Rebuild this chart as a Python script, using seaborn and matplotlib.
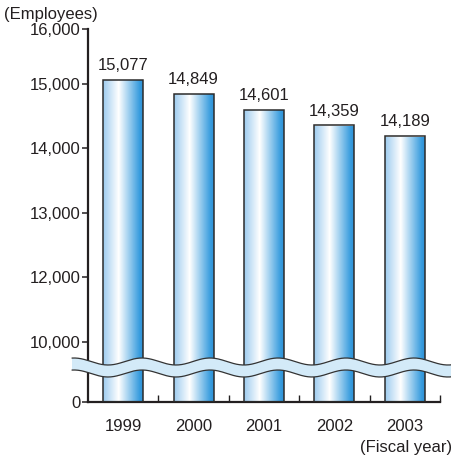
import numpy as np
import pandas as pd
import matplotlib
matplotlib.use("Agg")
import matplotlib.pyplot as plt
from matplotlib.colors import LinearSegmentedColormap
from matplotlib.patches import Polygon
from matplotlib.lines import Line2D
from matplotlib.ticker import FixedLocator, FuncFormatter
import seaborn as sns

# Data
years = ["1999", "2000", "2001", "2002", "2003"]
employees = [15077, 14849, 14601, 14359, 14189]
y_ticks = [0, 10000, 12000, 13000, 14000, 15000, 16000]

sns.set_style("ticks")
plt.rcParams["font.family"] = ["Liberation Sans", "DejaVu Sans"]
INK = "#231f20"
FS = 12

W, H = 452, 457
fig = plt.figure(figsize=(W / 100, H / 100), dpi=100)
ax = fig.add_axes([88 / W, 55 / H, 352 / W, 373 / H])

# Broken value axis: compressed below 10,000, wider spacing above
brk_vals = np.array([0, 10000, 12000, 15000, 16000], dtype=float)
brk_pos = np.array([0, 60, 125, 318, 373], dtype=float)


def fwd(v):
    return np.interp(v, brk_vals, brk_pos)


def inv(p):
    return np.interp(p, brk_pos, brk_vals)


ax.set_yscale("function", functions=(fwd, inv))

df = pd.DataFrame({"year": years, "employees": employees})
sns.barplot(data=df, x="year", y="employees", ax=ax, width=0.57,
            color="#5aaee5", saturation=1, zorder=2)

ax.set_xlim(-0.5, 4.5)
ax.set_ylim(0, 16000)

# Horizontal gradient fill inside each bar
cmap = LinearSegmentedColormap.from_list(
    "bar_grad",
    [(0.0, "#a0cdef"), (0.38, "#ffffff"), (0.9, "#389cde"), (1.0, "#2e8fd3")])
grad = np.linspace(0, 1, 256).reshape(1, -1)
for patch in ax.patches:
    x0 = patch.get_x()
    x1 = x0 + patch.get_width()
    im = ax.imshow(grad, cmap=cmap, aspect="auto",
                   extent=(x0, x1, 0, 1),
                   transform=ax.get_xaxis_transform(), zorder=2,
                   interpolation="bilinear")
    im.set_clip_path(patch)
    patch.set_facecolor("none")
    patch.set_edgecolor("#2b2b2b")
    patch.set_linewidth(1.1)
    patch.set_zorder(3)
ax.set_xlim(-0.5, 4.5)
ax.set_ylim(0, 16000)

# Value labels above bars
for i, v in enumerate(employees):
    ax.annotate(f"{v:,}", (i, v), xytext=(0, 7), textcoords="offset points",
                ha="center", va="baseline", fontsize=FS, color=INK)

# Axes styling
for side in ("top", "right"):
    ax.spines[side].set_visible(False)
for side in ("left", "bottom"):
    ax.spines[side].set_linewidth(1.6)
    ax.spines[side].set_color(INK)

ax.yaxis.set_major_locator(FixedLocator(y_ticks))
ax.yaxis.set_minor_locator(FixedLocator([]))
ax.yaxis.set_major_formatter(FuncFormatter(lambda v, p: f"{int(round(v)):,}"))
ax.tick_params(axis="y", direction="out", length=4, width=1.1, pad=1.5,
               labelsize=FS, colors=INK)

ax.set_xticks(range(len(years)))
ax.set_xticklabels(years)
ax.set_xticks(np.arange(0.5, 5.0, 1.0), minor=True)
ax.tick_params(axis="x", which="major", length=0, pad=12.5, labelsize=FS,
               colors=INK)
ax.tick_params(axis="x", which="minor", direction="in", length=5, width=1.0,
               colors=INK)
ax.set_xlabel("")
ax.set_ylabel("")

# Unit captions
fig.text(4 / W, 1 - 19.5 / H, "(Employees)", ha="left", va="baseline",
         fontsize=FS, color=INK)
fig.text(452 / W, 1 - 452 / H, "(Fiscal year)", ha="right", va="baseline",
         fontsize=FS, color=INK)

# Wavy axis-break band across the chart
xs = np.linspace(72, W, 500)
upper = 361.5 - 3.5 * np.cos(2 * np.pi * (xs - 142) / 68)
lower = upper + 12.0
fx = xs / W
fu = 1 - upper / H
fl = 1 - lower / H
poly = np.column_stack([np.concatenate([fx, fx[::-1]]),
                        np.concatenate([fu, fl[::-1]])])
fig.add_artist(Polygon(poly, closed=True, transform=fig.transFigure,
                       facecolor="#d3eaf8", edgecolor="none", zorder=5))
fig.add_artist(Line2D(fx, fu, transform=fig.transFigure, color="#333333",
                      lw=0.9, zorder=6))
fig.add_artist(Line2D(fx, fl, transform=fig.transFigure, color="#333333",
                      lw=0.9, zorder=6))

fig.savefig("out.png", dpi=100)
